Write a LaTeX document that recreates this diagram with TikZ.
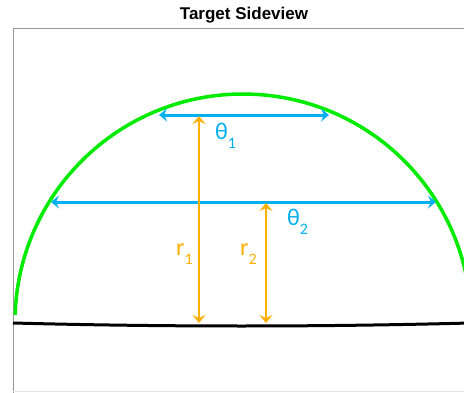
\documentclass[tikz,border=0pt]{standalone}
\usepackage{fontspec}
\setmainfont{Carlito}
\newfontfamily\titlefont{Liberation Sans}
\usetikzlibrary{arrows.meta}
\definecolor{gcol}{RGB}{0,235,0}
\definecolor{bcol}{RGB}{0,176,240}
\definecolor{ocol}{RGB}{255,176,0}
\definecolor{fcol}{RGB}{150,150,150}
\newcommand{\mylbl}[2]{\fontsize{24}{24}\selectfont #1\raisebox{-9pt}{\fontsize{16}{16}\selectfont #2}}
\tikzset{
  dome/.style={draw=gcol, line width=3.5pt},
  ground/.style={draw=black, line width=3pt},
  frameline/.style={draw=fcol, line width=1pt},
  thetaarrow/.style={draw=bcol, line width=3pt, {Stealth[length=8pt,width=13pt,inset=3pt]}-{Stealth[length=8pt,width=13pt,inset=3pt]}},
  rarrow/.style={draw=ocol, line width=2.6pt, {Stealth[length=8pt,width=13pt,inset=3pt]}-{Stealth[length=8pt,width=13pt,inset=3pt]}},
  thetalbl/.style={text=bcol, inner sep=0pt, anchor=base west},
  rlbl/.style={text=ocol, inner sep=0pt, anchor=base west}
}
\begin{document}
\begin{tikzpicture}[x=1pt,y=1pt]
\useasboundingbox (0,0) rectangle (464,392);
\clip (0,0) rectangle (464,392);
\fill[white] (0,0) rectangle (464,392);
% title
\node[anchor=base, inner sep=0pt] (title) at (244,372) {\titlefont\bfseries\fontsize{17}{17}\selectfont Target Sideview};
% frame
\coordinate (fbl) at (13,-2);
\coordinate (ftl) at (13,363);
\coordinate (ftr) at (470,363);
\draw[frameline] (fbl) -- (ftl) -- (ftr);
\draw[draw=black!10, line width=1pt] (13,1) -- (470,1);
% dome
\coordinate (c) at (243,70);
\draw[dome] ([shift={(178.2:228)}]c) arc[start angle=178.2, end angle=2, radius=228];
% ground
\coordinate (gl) at (13,69);
\coordinate (gr) at (470,69);
\draw[ground] (gl) .. controls (165,65) and (318,65) .. (gr);
% theta arrows
\coordinate (t1l) at (159,277);
\coordinate (t1r) at (329,277);
\coordinate (t2l) at (51,190);
\coordinate (t2r) at (436,190);
\draw[thetaarrow] (t1l) -- (t1r);
\draw[thetaarrow] (t2l) -- (t2r);
% r arrows
\coordinate (r1t) at (199,276);
\coordinate (r1b) at (199,69);
\coordinate (r2t) at (266,189);
\coordinate (r2b) at (266,69);
\draw[rarrow] (r1t) -- (r1b);
\draw[rarrow] (r2t) -- (r2b);
% labels
\node[thetalbl] (th1) at (215,253) {\mylbl{θ}{1}};
\node[thetalbl] (th2) at (287,167) {\mylbl{θ}{2}};
\node[rlbl] (rr1) at (176,137) {\mylbl{r}{1}};
\node[rlbl] (rr2) at (240,137) {\mylbl{r}{2}};
\end{tikzpicture}
\end{document}
